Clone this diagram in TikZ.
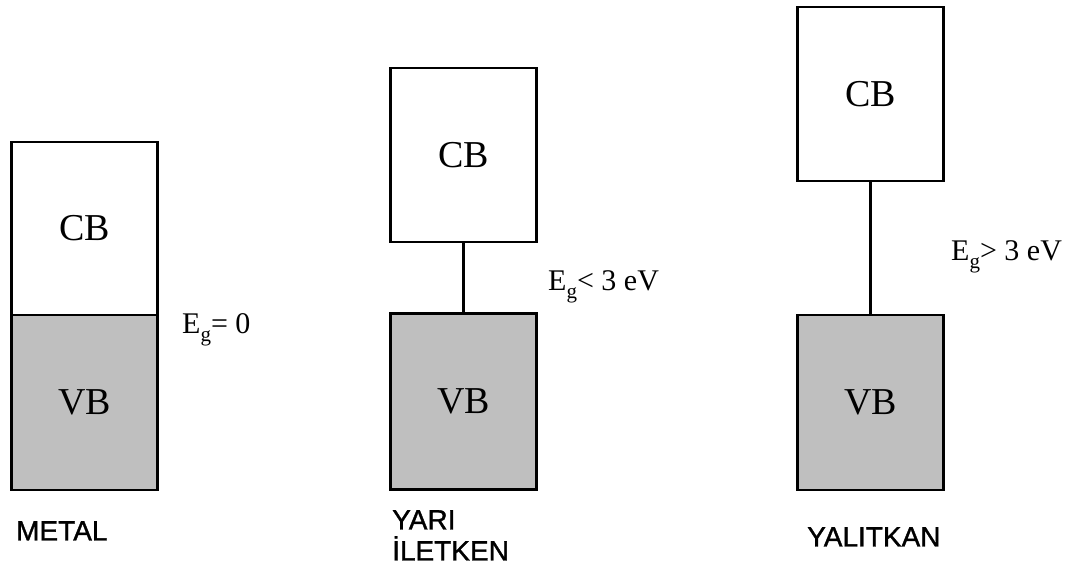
\documentclass[tikz,border=0pt]{standalone}
\usepackage{fontspec}
\setmainfont{Liberation Serif}
\newfontfamily\labelfont[FakeBold=1.2]{Liberation Sans}
\newcommand{\gapsym}{E\raisebox{-0.28em}{\fontsize{21}{21}\selectfont g}}
\begin{document}
\begin{tikzpicture}[x=1pt,y=-1pt,
  band/.style={draw=black,line width=2.4pt,rectangle,inner sep=0pt,
    minimum width=146pt,font=\fontsize{38}{40}\selectfont},
  cband/.style={band,fill=white},
  vband/.style={band,fill=black!25},
  gapline/.style={draw=black,line width=2.4pt},
  gaptext/.style={anchor=base west,inner sep=0pt,font=\fontsize{30}{32}\selectfont},
  kind/.style={anchor=north west,inner sep=0pt,align=left,
    font=\labelfont\fontsize{28}{31}\selectfont}]
\useasboundingbox (0,0) rectangle (1082,574);
\fill[white] (0,0) rectangle (1082,574);

% metal: touching bands
\node[cband,minimum height=173pt] (mcb) at (84.5,228.5) {CB};
\node[vband,minimum height=175pt] (mvb) at (84.5,402.5) {VB};
\node[gaptext] (meg) at (182,333) {\gapsym= 0};
\node[kind] (mlab) at (16,521) {METAL};

% semiconductor: small gap
\node[cband,minimum height=174pt] (scb) at (463.5,155) {CB};
\node[vband,minimum height=176pt] (svb) at (463.5,401.5) {VB};
\draw[gapline] (scb.south) -- (svb.north);
\node[gaptext] (seg) at (548,290) {\gapsym< 3 eV};
\node[kind] (slab) at (392,510) {YARI\\İLETKEN};

% insulator: wide gap
\node[cband,minimum height=174pt] (icb) at (870.5,94) {CB};
\node[vband,minimum height=175pt] (ivb) at (870.5,402.5) {VB};
\draw[gapline] (icb.south) -- (ivb.north);
\node[gaptext] (ieg) at (951,260) {\gapsym> 3 eV};
\node[kind] (ilab) at (807,527) {YALITKAN};
\end{tikzpicture}
\end{document}
